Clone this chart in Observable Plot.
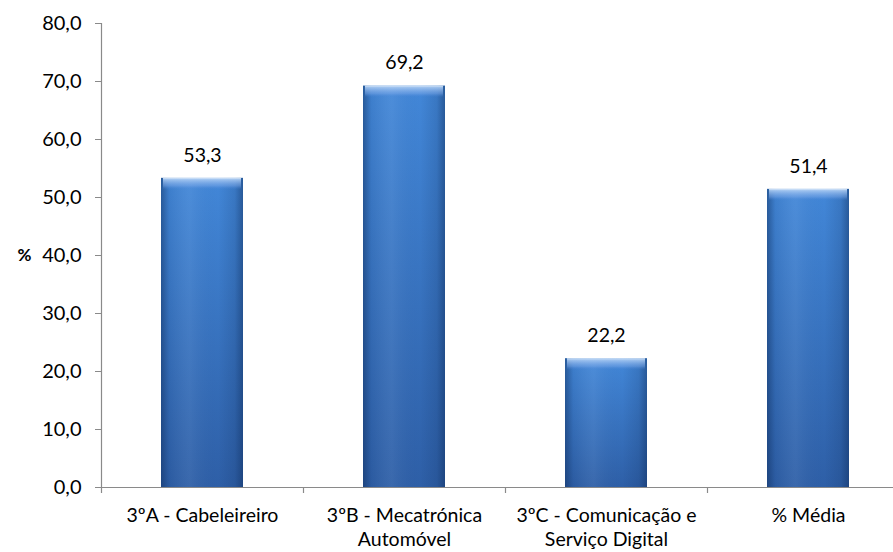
<!DOCTYPE html>
<html><head><meta charset="utf-8">
<script src="https://cdn.jsdelivr.net/npm/d3@7"></script>
<script src="https://cdn.jsdelivr.net/npm/@observablehq/plot@0.6"></script>
<style>
body{margin:0;background:#fff;}
#chart{width:893px;height:552px;overflow:hidden;}
g[aria-label="main bars"]{filter:drop-shadow(2px 2px 2px rgba(0,0,0,0.25));}
</style></head>
<body>
<svg width="0" height="0" style="position:absolute">
<defs>
<linearGradient id="barV" x1="0" y1="0" x2="0" y2="1">
<stop offset="0" stop-color="#4287d8"/>
<stop offset="1" stop-color="#2e5fa7"/>
</linearGradient>
<linearGradient id="barH" x1="0" y1="0" x2="1" y2="0">
<stop offset="0" stop-color="#0a2550" stop-opacity="0.45"/>
<stop offset="0.1" stop-color="#0a2550" stop-opacity="0.08"/>
<stop offset="0.35" stop-color="#ffffff" stop-opacity="0.06"/>
<stop offset="0.7" stop-color="#0a2550" stop-opacity="0"/>
<stop offset="0.9" stop-color="#0a2550" stop-opacity="0.15"/>
<stop offset="1" stop-color="#0a2550" stop-opacity="0.45"/>
</linearGradient>
<linearGradient id="bevel" x1="0" y1="0" x2="0" y2="1">
<stop offset="0" stop-color="#e3eefb" stop-opacity="0.95"/>
<stop offset="0.15" stop-color="#aecdf3" stop-opacity="0.85"/>
<stop offset="0.7" stop-color="#7eaaea" stop-opacity="0.45"/>
<stop offset="1" stop-color="#4a86d8" stop-opacity="0"/>
</linearGradient>
</defs></svg>
<div id="chart"></div>
<script>
const categories = ["3ºA - Cabeleireiro", "3ºB - Mecatrónica\nAutomóvel", "3ºC - Comunicação e\nServiço Digital", "% Média"];
const values = [53.3, 69.2, 22.2, 51.4];
const yTicks = [0, 10, 20, 30, 40, 50, 60, 70, 80];
const yLabel = "%";

const data = categories.map((c, i) => ({c, v: values[i]}));
const fmt = d => d.toFixed(1).replace(".", ",");
const axisColor = "#8a8a8a";

const chart = Plot.plot({
  width: 893,
  height: 552,
  marginLeft: 101,
  marginRight: 0,
  marginTop: 23,
  marginBottom: 65,
  style: {fontFamily: "Lato, 'Open Sans', sans-serif", fontSize: "19.5px", color: "#000", background: "#fff"},
  x: {domain: categories, range: [101, 909], paddingInner: 0.594, paddingOuter: 0.297},
  y: {domain: [0, 80]},
  marks: [
    Plot.barY(data, {x: "c", y: "v", fill: "url(#barV)", ariaLabel: "main bars"}),
    Plot.barY(data, {x: "c", y: "v", fill: "url(#barH)", ariaLabel: "shade"}),
    Plot.barY(data, {x: "c", y1: d => d.v - 2, y2: "v", fill: "url(#bevel)", insetLeft: 2, insetRight: 2, ariaLabel: "bevel"}),
    Plot.ruleY([0], {stroke: axisColor, strokeWidth: 1.2}),
    Plot.ruleX([categories[0]], {y1: 0, y2: 80, dx: -101, stroke: axisColor, strokeWidth: 1.2}),
    Plot.ruleX(categories, {y1: 0, y2: 0, insetBottom: -6, dx: -101, stroke: axisColor, strokeWidth: 1.2}),
    Plot.axisY({ticks: yTicks, tickFormat: fmt, tickSize: 6, tickPadding: 14, stroke: axisColor, fill: "#000", label: null, fontSize: 20}),
    Plot.axisX({tickSize: 0, tickPadding: 18, label: null, fill: "#000", lineHeight: 1.2}),
    Plot.text(data, {x: "c", y: "v", text: d => fmt(d.v), dy: -23, fill: "#000"}),
    Plot.text([yLabel], {frameAnchor: "left", dx: -84, fontWeight: "bold", fontSize: 17, fill: "#000"})
  ]
});
document.getElementById("chart").appendChild(chart);
</script>
</body></html>
